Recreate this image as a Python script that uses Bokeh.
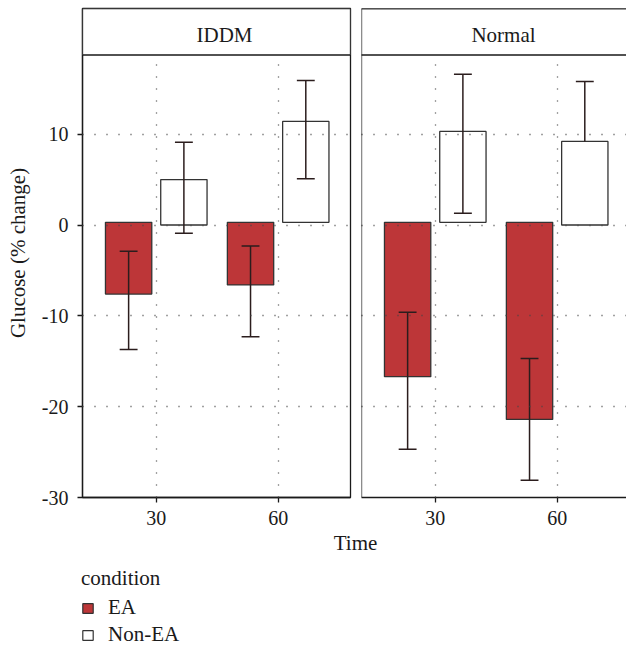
import math
from bokeh.plotting import figure
from bokeh.models import (Range1d, FixedTicker, BoxAnnotation, Label, Span,
                          Legend, LegendItem)
from bokeh.layouts import row, column
from bokeh.embed import file_html
from bokeh.resources import INLINE

# ---------------- data ----------------
panels = ["IDDM", "Normal"]
times = [30, 60]
conditions = ["EA", "Non-EA"]
y_ticks = [10, 0, -10, -20, -30]
y_tick_labels = ["10", "0", "-10", "-20", "-30"]
x_tick_labels = ["30", "60"]

iddm_ea_mean = [-7.6, -6.6]
iddm_ea_lower = [-13.7, -12.3]
iddm_ea_upper = [-2.9, -2.3]
iddm_ea_base = [0.3, 0.3]

iddm_nonea_mean = [5.0, 11.4]
iddm_nonea_lower = [-0.9, 5.1]
iddm_nonea_upper = [9.1, 15.9]
iddm_nonea_base = [0.0, 0.3]

normal_ea_mean = [-16.7, -21.4]
normal_ea_lower = [-24.7, -28.1]
normal_ea_upper = [-9.6, -14.7]
normal_ea_base = [0.3, 0.3]

normal_nonea_mean = [10.3, 9.2]
normal_nonea_lower = [1.3, float("nan")]
normal_nonea_upper = [16.6, 15.8]
normal_nonea_base = [0.3, 0.0]

# ---------------- style ----------------
FONT = "Liberation Serif"
FS = "21px"
TICK_FS = "20px"
TXT = "#1a1a1a"
EA_COLOR = "#BD3638"
NONEA_COLOR = "#FFFFFF"
BAR_LINE = "#333333"
ERR_COLOR = "#2b1d1d"
GRID_COLOR = "#444444"

X0, X1 = 11.85, 77.8          # full panel x extent
PX_PER_X = 268 / (X1 - X0)
Y0 = -30
FRAME_H = 489
Y1 = Y0 + FRAME_H / 9.083
STRIP_BOTTOM = 18.72
DODGE = 6.8
BAR_W = 11.4
CAP_W = 4.4

series = {
    "IDDM": [
        ("EA", iddm_ea_mean, iddm_ea_lower, iddm_ea_upper, iddm_ea_base),
        ("Non-EA", iddm_nonea_mean, iddm_nonea_lower, iddm_nonea_upper, iddm_nonea_base),
    ],
    "Normal": [
        ("EA", normal_ea_mean, normal_ea_lower, normal_ea_upper, normal_ea_base),
        ("Non-EA", normal_nonea_mean, normal_nonea_lower, normal_nonea_upper, normal_nonea_base),
    ],
}
colors = {"EA": EA_COLOR, "Non-EA": NONEA_COLOR}
offsets = {"EA": -DODGE, "Non-EA": DODGE}


def make_panel(name, first):
    fw = 268 if first else 265
    xend = X0 + fw / PX_PER_X
    p = figure(frame_width=fw, frame_height=FRAME_H,
               x_range=Range1d(X0, xend), y_range=Range1d(Y0, Y1),
               output_backend="svg", toolbar_location=None,
               min_border_left=82 if first else 6,
               min_border_right=5 if first else 0,
               min_border_top=8, min_border_bottom=33,
               y_axis_location="left" if first else None,
               background_fill_color="white", border_fill_color="white")
    if first:
        p.outline_line_color = "#1a1a1a"
        p.outline_line_width = 1.3
    else:
        p.outline_line_color = None

    # axes
    p.xaxis.ticker = FixedTicker(ticks=times)
    p.xaxis.major_label_overrides = {t: l for t, l in zip(times, x_tick_labels)}
    axes = [p.xaxis]
    if first:
        p.yaxis.ticker = FixedTicker(ticks=y_ticks)
        p.yaxis.major_label_overrides = {t: l for t, l in zip(y_ticks, y_tick_labels)}
        p.yaxis.axis_label = "Glucose (% change)"
        p.yaxis.axis_label_text_font = FONT
        p.yaxis.axis_label_text_font_size = FS
        p.yaxis.axis_label_text_font_style = "normal"
        p.yaxis.axis_label_text_color = TXT
        p.yaxis.axis_label_standoff = 9
        axes.append(p.yaxis)
    for ax in axes:
        ax.major_tick_in = 0
        ax.major_tick_out = 5
        ax.minor_tick_line_color = None
        ax.major_tick_line_color = "#1a1a1a"
        ax.major_tick_line_width = 1.3
        ax.axis_line_color = "#1a1a1a"
        ax.axis_line_width = 1.3
        ax.major_label_text_font = FONT
        ax.major_label_text_font_size = TICK_FS
        ax.major_label_text_color = TXT
    p.xaxis.major_label_standoff = 8
    if first:
        p.yaxis.major_label_standoff = 9

    # grid (dotted, drawn over the bars)
    p.xgrid.ticker = FixedTicker(ticks=times)
    p.ygrid.ticker = FixedTicker(ticks=y_ticks)
    for g in (p.xgrid, p.ygrid):
        g.grid_line_color = GRID_COLOR
        g.grid_line_width = 1.3
        g.grid_line_dash = "1 11"
        g.level = "guide"

    # bars and error bars
    for cond, mean, lower, upper, base in series[name]:
        xs = [t + offsets[cond] for t in times]
        p.vbar(x=xs, top=mean, bottom=base, width=BAR_W,
               fill_color=colors[cond], line_color=BAR_LINE, line_width=1.3)
        y_start = [lo if not math.isnan(lo) else m for lo, m in zip(lower, mean)]
        p.segment(x0=xs, x1=xs, y0=y_start, y1=upper,
                  line_color=ERR_COLOR, line_width=1.5)
        p.segment(x0=[x - CAP_W / 2 for x in xs], x1=[x + CAP_W / 2 for x in xs],
                  y0=upper, y1=upper, line_color=ERR_COLOR, line_width=1.5)
        p.segment(x0=[x - CAP_W / 2 for x in xs], x1=[x + CAP_W / 2 for x in xs],
                  y0=lower, y1=lower, line_color=ERR_COLOR, line_width=1.5)

    # strip header
    strip = BoxAnnotation(bottom=STRIP_BOTTOM, left=None if first else X0 - 1,
                          right=None if first else X1 + 5,
                          fill_color="white", fill_alpha=1.0,
                          line_color="#1a1a1a", line_width=1.3, line_alpha=1.0,
                          level="annotation")
    p.add_layout(strip)
    lab = Label(x=(X0 + X1) / 2, y=(STRIP_BOTTOM + Y1) / 2, text=name,
                x_offset=8, y_offset=-3,
                text_align="center", text_baseline="middle",
                text_font=FONT, text_font_size=FS, text_color=TXT,
                level="overlay")
    p.add_layout(lab)

    if not first:
        p.add_layout(Span(location=X0, dimension="height", line_color="#1a1a1a",
                          line_width=1.3, level="overlay"))
        p.add_layout(Span(location=Y1, dimension="width", line_color="#1a1a1a",
                          line_width=1.3, level="overlay"))
    return p


p1 = make_panel("IDDM", True)
p2 = make_panel("Normal", False)

# bottom area: x-axis title and legend
BW, BH = 626, 117
p3 = figure(width=BW, height=BH, x_range=Range1d(0, BW), y_range=Range1d(0, BH),
            x_axis_type=None, y_axis_type=None, min_border=0,
            output_backend="svg", toolbar_location=None,
            background_fill_color="white", border_fill_color="white")
p3.grid.visible = False
p3.outline_line_color = None
p3.add_layout(Label(x=355, y=BH - 12, text="Time", text_align="center",
                    text_baseline="middle", text_font=FONT,
                    text_font_size=FS, text_color=TXT))
# legend proxies (hidden renderers, only their styles are shown in the legend)
r_ea = p3.vbar(x=times, top=iddm_ea_mean, width=1, fill_color=EA_COLOR,
               line_color=BAR_LINE, line_width=1.2)
r_non = p3.vbar(x=times, top=iddm_nonea_mean, width=1, fill_color=NONEA_COLOR,
                line_color=BAR_LINE, line_width=1.2)
r_ea.visible = False
r_non.visible = False
legend = Legend(items=[LegendItem(label=conditions[0], renderers=[r_ea]),
                       LegendItem(label=conditions[1], renderers=[r_non])],
                title="condition", location=(81, 0), orientation="vertical",
                padding=0, margin=0, spacing=2, glyph_width=13, glyph_height=12,
                label_standoff=14, title_standoff=4,
                label_text_font=FONT, label_text_font_size=FS, label_text_color=TXT,
                title_text_font=FONT, title_text_font_size=FS, title_text_color=TXT,
                title_text_font_style="normal",
                inactive_fill_alpha=0,
                border_line_color=None, background_fill_alpha=0)
p3.add_layout(legend)

layout = column(row(p1, p2), p3)
open("out.html", "w").write(file_html(layout, INLINE))
